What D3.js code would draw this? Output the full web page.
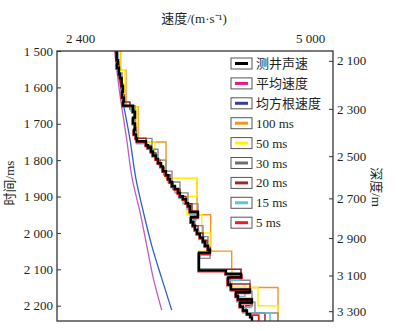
<!DOCTYPE html>
<html>
<head>
<meta charset="utf-8">
<script src="https://cdn.jsdelivr.net/npm/d3@7"></script>
<style>
  html, body { margin: 0; padding: 0; background: #fff; }
  svg { display: block; }
  text { font-family: "Liberation Serif", "Times New Roman", "Noto Sans CJK SC", serif; fill: #231f20; }
</style>
</head>
<body>
<div id="chart"></div>
<script>
// ---- data (velocity in m/s, two-way time in ms) ----
const timeTicks = [1500, 1600, 1700, 1800, 1900, 2000, 2100, 2200];
const velTicks = [2400, 5000];
const depthTicks = [2100, 2300, 2500, 2700, 2900, 3100, 3300];
const depthTimes = [1527, 1659, 1789, 1905, 2014, 2117, 2215];
const tEnd = 2242;

const logT = [1500,1525,1535,1546,1563,1574,1596,1612,1628,1639,1650,1667,1683,1699,1716,1729,1740,1748,1759,1765,
  1776,1787,1797,1808,1817,1830,1841,1852,1860,1871,1879,1890,1899,1907,1918,1926,1942,1956,1970,1980,
  1991,2002,2013,2024,2035,2046,2054,2103,2112,2122,2142,2155,2163,2174,2183,2191,2202,2213,2223,2232];
const logV = [2815,2830,2818,2841,2852,2871,2886,2875,2897,2886,2999,3022,2999,3022,3010,3033,3044,3146,3169,3203,
  3225,3259,3282,3316,3338,3372,3395,3417,3440,3474,3508,3530,3564,3598,3621,3643,3734,3655,3677,3700,
  3723,3756,3790,3813,3847,3870,3745,4050,4220,4073,4107,4322,4163,4186,4344,4209,4243,4288,4322,4344];

const avgT = [1500, 1606, 1743, 1852, 1942, 2034, 2125, 2212];
const avgV = [2792, 2844, 2928, 2991, 3078, 3154, 3229, 3324];
const rmsT = [1500, 1606, 1743, 1852, 1942, 2034, 2125, 2212];
const rmsV = [2807, 2863, 2965, 3033, 3116, 3210, 3324, 3437];

const b100T = [1500, 1553, 1653, 1750, 1850, 1950, 2050, 2150];
const b100V = [2860, 2920, 3056, 3372, 3723, 3877, 4115, 4638];

const b50T = [1500,1553,1603,1653,1703,1750,1800,1850,1900,1950,2000,2050,2100,2150,2200];
const b50V = [2852,2909,2897,3044,3040,3248,3372,3723,3610,3776,3870,3737,4115,4412,4638];

const b30T = [1500,1530,1560,1590,1620,1650,1680,1710,1740,1770,1800,1830,1860,1890,1920,1950,1980,2010,2040,2070,2100,2130,2160,2190,2220];
const b30V = [2830,2841,2875,2886,2897,3022,3022,3033,3214,3282,3372,3440,3530,3621,3734,3700,3790,3847,3870,3745,4220,4322,4344,4378,4638];

const b20T = [1500,1520,1540,1560,1580,1600,1620,1640,1660,1680,1700,1720,1740,1760,1780,1800,1820,1840,1860,1880,
  1900,1920,1940,1960,1980,2000,2020,2040,2060,2080,2100,2120,2140,2160,2180,2200,2220];
const b20V = [2818,2830,2841,2852,2875,2886,2897,2965,3010,3022,3022,3033,3146,3203,3259,3304,3350,3417,3451,3530,
  3598,3666,3734,3689,3734,3790,3836,3870,3745,3745,4220,4096,4322,4186,4344,4276,4491];

const b15T = [1500,1515,1530,1545,1560,1575,1590,1605,1620,1635,1650,1665,1680,1695,1710,1725,1740,1755,1770,1785,
  1800,1815,1830,1845,1860,1875,1890,1905,1920,1935,1950,1965,1980,1995,2010,2025,2040,2055,2070,2085,
  2100,2115,2130,2145,2160,2175,2190,2205,2220];
const b15V = [2818,2830,2830,2841,2852,2863,2875,2886,2886,2897,2976,3010,3022,3010,3022,3033,3044,3157,3225,3259,
  3293,3327,3361,3395,3429,3474,3519,3564,3610,3643,3711,3666,3700,3745,3779,3813,3858,3756,3745,3745,
  4050,4209,4084,4107,4265,4175,4333,4243,4548];

const b5T = [1500,1528,1538,1550,1566,1578,1600,1615,1631,1642,1653,1670,1686,1702,1719,1732,1743,1751,1762,1768,
  1779,1790,1800,1811,1820,1833,1844,1855,1863,1874,1882,1893,1902,1910,1921,1929,1945,1959,1973,1983,
  1994,2005,2016,2027,2038,2049,2057,2106,2115,2125,2145,2158,2166,2177,2186,2194,2205,2216,2226];
const b5V = [2805,2820,2810,2832,2845,2862,2878,2868,2888,2878,2990,3012,2992,3014,3002,3024,3036,3138,3160,3194,
  3216,3250,3274,3306,3330,3363,3386,3408,3432,3465,3499,3522,3556,3590,3612,3634,3726,3646,3668,3692,
  3714,3748,3782,3804,3838,3862,3736,4040,4230,4064,4098,4315,4155,4178,4336,4200,4235,4280,4420];

const legendNames = ["测井声速", "平均速度", "均方根速度", "100 ms", "50 ms", "30 ms", "20 ms", "15 ms", "5 ms"];
const legendColors = ["#000000", "#e6178c", "#3a3a9c", "#f7941d", "#fff200", "#6d6e70", "#a1262a", "#5bc5d6", "#ee1c25"];

// ---- layout ----
const width = 397, height = 331;
const margin = {top: 51, right: 64, bottom: 10, left: 57};
const innerWidth = width - margin.left - margin.right;
const innerHeight = height - margin.top - margin.bottom;

const svg = d3.select("#chart").append("svg")
  .attr("width", width)
  .attr("height", height)
  .attr("viewBox", [0, 0, width, height]);

const innerChart = svg.append("g")
  .attr("transform", `translate(${margin.left}, ${margin.top})`);

const xScale = d3.scaleLinear().domain([2140, 5260]).range([0, innerWidth]);
const yScale = d3.scaleLinear().domain([1500, tEnd]).range([0, innerHeight]);
const depthScale = d3.scaleLinear().domain(depthTicks).range(depthTimes.map(t => yScale(t)));

const fmt = d => d3.format(",")(d).replace(/,/g, " ");

const smoothLine = d3.line()
  .x(d => xScale(d[0]))
  .y(d => yScale(d[1]))
  .curve(d3.curveMonotoneY);

const stepLine = d3.line()
  .x(d => xScale(d[0]))
  .y(d => yScale(d[1]))
  .curve(d3.curveStepBefore);

const toSteps = (T, V) => {
  const pts = T.map((t, i) => [V[i], t]);
  pts.push([V[V.length - 1], tEnd]);
  return pts;
};

// smooth average curves
innerChart.append("path")
  .attr("d", smoothLine(avgT.map((t, i) => [avgV[i], t])))
  .attr("fill", "none").attr("stroke", "#bd5cc6").attr("stroke-width", 1.3);
innerChart.append("path")
  .attr("d", smoothLine(rmsT.map((t, i) => [rmsV[i], t])))
  .attr("fill", "none").attr("stroke", "#2f60c6").attr("stroke-width", 1.3);

// blocked velocities, coarse first
const steps = [
  {T: b100T, V: b100V, color: legendColors[3], w: 1.4},
  {T: b50T, V: b50V, color: legendColors[4], w: 1.4},
  {T: b30T, V: b30V, color: "#8a8a8a", w: 1.4},
  {T: b20T, V: b20V, color: legendColors[6], w: 1.5},
  {T: b15T, V: b15V, color: legendColors[7], w: 1.5},
  {T: b5T, V: b5V, color: legendColors[8], w: 1.8},
  {T: logT, V: logV, color: "#000000", w: 2.4}
];

steps.forEach(s => {
  innerChart.append("path")
    .attr("d", stepLine(toSteps(s.T, s.V)))
    .attr("fill", "none")
    .attr("stroke", s.color)
    .attr("stroke-width", s.w);
});

// frame
innerChart.append("rect")
  .attr("width", innerWidth).attr("height", innerHeight)
  .attr("fill", "none").attr("stroke", "#333").attr("stroke-width", 1.3);

// axes
const leftAxis = innerChart.append("g")
  .call(d3.axisLeft(yScale)
    .tickValues(timeTicks)
    .tickFormat(fmt)
    .tickSizeInner(-4)
    .tickSizeOuter(0)
    .tickPadding(4));

const rightAxis = innerChart.append("g")
  .attr("transform", `translate(${innerWidth}, 0)`)
  .call(d3.axisRight(depthScale)
    .tickValues(depthTicks)
    .tickFormat(fmt)
    .tickSizeInner(-4)
    .tickSizeOuter(0)
    .tickPadding(4));

const topAxis = innerChart.append("g")
  .call(d3.axisTop(xScale)
    .tickValues(velTicks)
    .tickFormat(fmt)
    .tickSize(0)
    .tickPadding(8));

[leftAxis, rightAxis, topAxis].forEach(a => {
  a.select(".domain").remove();
  a.selectAll(".tick line").attr("stroke", "#333");
  a.selectAll(".tick text")
    .attr("font-size", 13)
    .attr("fill", "#231f20")
    .style("font-family", "'Liberation Serif', serif");
});

// titles
svg.append("text")
  .attr("x", 194).attr("y", 23)
  .attr("text-anchor", "middle")
  .attr("font-size", 13)
  .text("速度/(m·s⁻¹)");

svg.append("text")
  .attr("transform", "translate(14, 183) rotate(-90)")
  .attr("text-anchor", "middle")
  .attr("font-size", 13)
  .text("时间/ms");

svg.append("text")
  .attr("transform", "translate(372, 187) rotate(90)")
  .attr("text-anchor", "middle")
  .attr("font-size", 13)
  .text("深度/m");

// legend
const legend = svg.append("g").attr("transform", "translate(231, 58)");
const rows = legend.selectAll("g")
  .data(legendNames)
  .join("g")
    .attr("transform", (d, i) => `translate(0, ${i * 19.9})`);

rows.append("rect")
  .attr("width", 21).attr("height", 11)
  .attr("fill", "#fff").attr("stroke", "#555").attr("stroke-width", 1);
rows.append("line")
  .attr("x1", 4).attr("x2", 17).attr("y1", 5.5).attr("y2", 5.5)
  .attr("stroke", (d, i) => legendColors[i])
  .attr("stroke-width", 3);
rows.append("text")
  .attr("x", 25).attr("y", 10)
  .attr("font-size", 13)
  .text(d => d);
</script>
</body>
</html>
